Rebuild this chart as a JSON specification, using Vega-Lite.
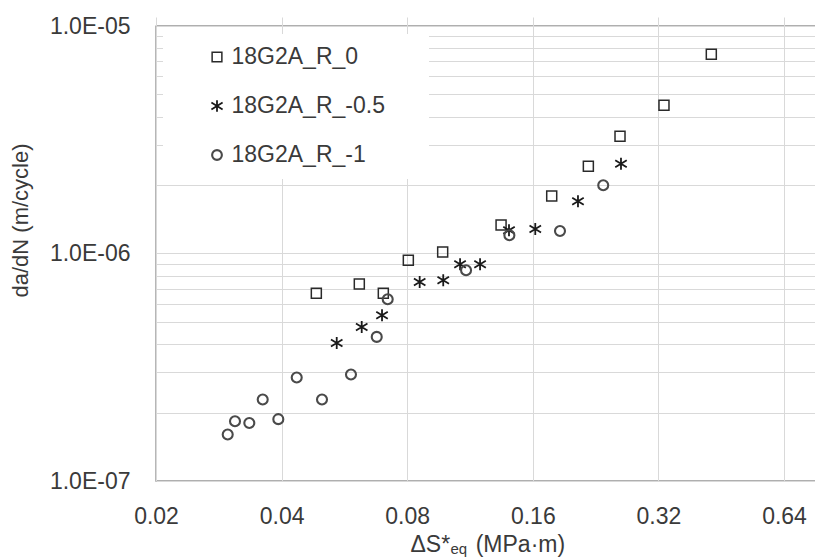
{
  "$schema": "https://vega.github.io/schema/vega-lite/v6.json",
  "width": 660,
  "height": 455,
  "autosize": "none",
  "padding": {"left": 156, "top": 26, "right": 0, "bottom": 76},
  "background": "white",
  "config": {
    "font": "Liberation Sans",
    "view": {"stroke": "#606060", "strokeWidth": 1.3},
    "axis": {
      "labelFont": "Liberation Sans",
      "titleFont": "Liberation Sans",
      "labelColor": "#3a3a3a",
      "titleColor": "#3a3a3a",
      "titleFontWeight": "normal",
      "gridColor": "#d9d9d9",
      "gridWidth": 1,
      "domain": false,
      "ticks": false,
      "tickSize": 0,
      "labelOverlap": false,
      "labelBound": false,
      "labelFlush": false
    },
    "legend": {
      "orient": "none",
      "legendX": 7,
      "legendY": 8,
      "fillColor": "white",
      "padding": 11.5,
      "rowPadding": 25,
      "labelFont": "Liberation Sans",
      "labelFontSize": 23,
      "labelColor": "#3a3a3a",
      "labelLimit": 400,
      "symbolSize": 95,
      "symbolStrokeWidth": 1.5,
      "symbolOffset": 31,
      "labelOffset": 3
    }
  },
  "data": {
    "values": [
      {"series": "18G2A_R_0", "dS": 0.04845, "dadN": 6.68e-7},
      {"series": "18G2A_R_0", "dS": 0.06142, "dadN": 7.34e-7},
      {"series": "18G2A_R_0", "dS": 0.07012, "dadN": 6.68e-7},
      {"series": "18G2A_R_0", "dS": 0.0805, "dadN": 9.33e-7},
      {"series": "18G2A_R_0", "dS": 0.0973, "dadN": 1.016e-6},
      {"series": "18G2A_R_0", "dS": 0.1343, "dadN": 1.333e-6},
      {"series": "18G2A_R_0", "dS": 0.1776, "dadN": 1.789e-6},
      {"series": "18G2A_R_0", "dS": 0.2174, "dadN": 2.417e-6},
      {"series": "18G2A_R_0", "dS": 0.2589, "dadN": 3.275e-6},
      {"series": "18G2A_R_0", "dS": 0.330, "dadN": 4.48e-6},
      {"series": "18G2A_R_0", "dS": 0.4285, "dadN": 7.51e-6},
      {"series": "18G2A_R_-0.5", "dS": 0.05422, "dadN": 4.04e-7},
      {"series": "18G2A_R_-0.5", "dS": 0.06224, "dadN": 4.75e-7},
      {"series": "18G2A_R_-0.5", "dS": 0.06962, "dadN": 5.35e-7},
      {"series": "18G2A_R_-0.5", "dS": 0.0857, "dadN": 7.49e-7},
      {"series": "18G2A_R_-0.5", "dS": 0.0976, "dadN": 7.62e-7},
      {"series": "18G2A_R_-0.5", "dS": 0.1071, "dadN": 8.96e-7},
      {"series": "18G2A_R_-0.5", "dS": 0.1196, "dadN": 8.96e-7},
      {"series": "18G2A_R_-0.5", "dS": 0.1403, "dadN": 1.265e-6},
      {"series": "18G2A_R_-0.5", "dS": 0.1622, "dadN": 1.282e-6},
      {"series": "18G2A_R_-0.5", "dS": 0.2053, "dadN": 1.696e-6},
      {"series": "18G2A_R_-0.5", "dS": 0.2603, "dadN": 2.479e-6},
      {"series": "18G2A_R_-1", "dS": 0.02971, "dadN": 1.60e-7},
      {"series": "18G2A_R_-1", "dS": 0.03093, "dadN": 1.83e-7},
      {"series": "18G2A_R_-1", "dS": 0.03347, "dadN": 1.80e-7},
      {"series": "18G2A_R_-1", "dS": 0.03604, "dadN": 2.28e-7},
      {"series": "18G2A_R_-1", "dS": 0.03928, "dadN": 1.87e-7},
      {"series": "18G2A_R_-1", "dS": 0.04348, "dadN": 2.85e-7},
      {"series": "18G2A_R_-1", "dS": 0.04999, "dadN": 2.28e-7},
      {"series": "18G2A_R_-1", "dS": 0.05866, "dadN": 2.94e-7},
      {"series": "18G2A_R_-1", "dS": 0.06762, "dadN": 4.30e-7},
      {"series": "18G2A_R_-1", "dS": 0.07184, "dadN": 6.29e-7},
      {"series": "18G2A_R_-1", "dS": 0.1107, "dadN": 8.44e-7},
      {"series": "18G2A_R_-1", "dS": 0.1406, "dadN": 1.202e-6},
      {"series": "18G2A_R_-1", "dS": 0.1859, "dadN": 1.256e-6},
      {"series": "18G2A_R_-1", "dS": 0.236, "dadN": 1.994e-6}
    ]
  },
  "encoding": {
    "y": {
      "field": "dadN",
      "type": "quantitative",
      "scale": {"type": "log", "domain": [1e-7, 1e-5]},
      "axis": {
        "values": [1e-7, 2e-7, 3e-7, 4e-7, 5e-7, 6e-7, 7e-7, 8e-7, 9e-7, 1e-6, 2e-6, 3e-6, 4e-6, 5e-6, 6e-6, 7e-6, 8e-6, 9e-6, 1e-5],
        "labelExpr": "abs(log(datum.value)/LN10 - round(log(datum.value)/LN10)) < 0.001 ? '1.0E-0' + (-round(log(datum.value)/LN10)) : ''",
        "labelFontSize": 23,
        "labelPadding": 26,
        "grid": true,
        "title": "da/dN (m/cycle)",
        "titleFontSize": 22,
        "titleX": -124,
        "titleY": 194
      }
    }
  },
  "layer": [
    {
      "mark": {"type": "point", "filled": false, "size": 100, "opacity": 1},
      "encoding": {
        "x": {
          "field": "dS",
          "type": "quantitative",
          "scale": {"type": "log", "base": 2, "domain": [0.02, 0.7636]},
          "axis": {
            "orient": "bottom",
            "values": [0.02, 0.04, 0.08, 0.16, 0.32, 0.64],
            "format": ".2f",
            "labelFontSize": 23,
            "labelPadding": 24,
            "grid": true,
            "title": "ΔS*\u00a0\u00a0\u00a0\u00a0(MPa·m)",
            "titleFontSize": 23,
            "titleX": 254,
            "titleY": 70,
            "titleAlign": "left",
            "titleBaseline": "alphabetic"
          }
        },
        "color": {
          "field": "series",
          "type": "nominal",
          "scale": {"domain": ["18G2A_R_0", "18G2A_R_-0.5", "18G2A_R_-1"], "range": ["#2a2a2a", "#1a1a1a", "#4a4a4a"]},
          "legend": {"title": null, "labelExpr": "datum.label + '\u00a0\u00a0\u00a0\u00a0\u00a0\u200b'"}
        },
        "shape": {
          "field": "series",
          "type": "nominal",
          "scale": {"domain": ["18G2A_R_0", "18G2A_R_-0.5", "18G2A_R_-1"], "range": ["square", "M0,-1.2L0,1.2M-1.15,-0.7L1.15,0.7M-1.15,0.7L1.15,-0.7", "circle"]},
          "legend": {"title": null, "labelExpr": "datum.label + '\u00a0\u00a0\u00a0\u00a0\u00a0\u200b'"}
        },
        "strokeWidth": {
          "field": "series",
          "type": "nominal",
          "scale": {"domain": ["18G2A_R_0", "18G2A_R_-0.5", "18G2A_R_-1"], "range": [1.5, 2.1, 1.5]},
          "legend": null
        }
      }
    },
    {
      "mark": {"type": "point", "opacity": 0},
      "encoding": {
        "x": {
          "field": "dS",
          "type": "quantitative",
          "scale": {"type": "log", "base": 2, "domain": [0.02, 0.7636]},
          "axis": {
            "orient": "top",
            "values": [0.02, 0.04, 0.08, 0.16, 0.32, 0.64],
            "labels": false,
            "ticks": true,
            "tickSize": 9,
            "tickColor": "#d9d9d9",
            "tickWidth": 1,
            "grid": false,
            "domain": false,
            "title": "eq",
            "titleFontSize": 15,
            "titleX": 294,
            "titleY": 527,
            "titleAlign": "left",
            "titleBaseline": "alphabetic"
          }
        }
      }
    }
  ],
  "resolve": {"axis": {"x": "independent"}}
}
